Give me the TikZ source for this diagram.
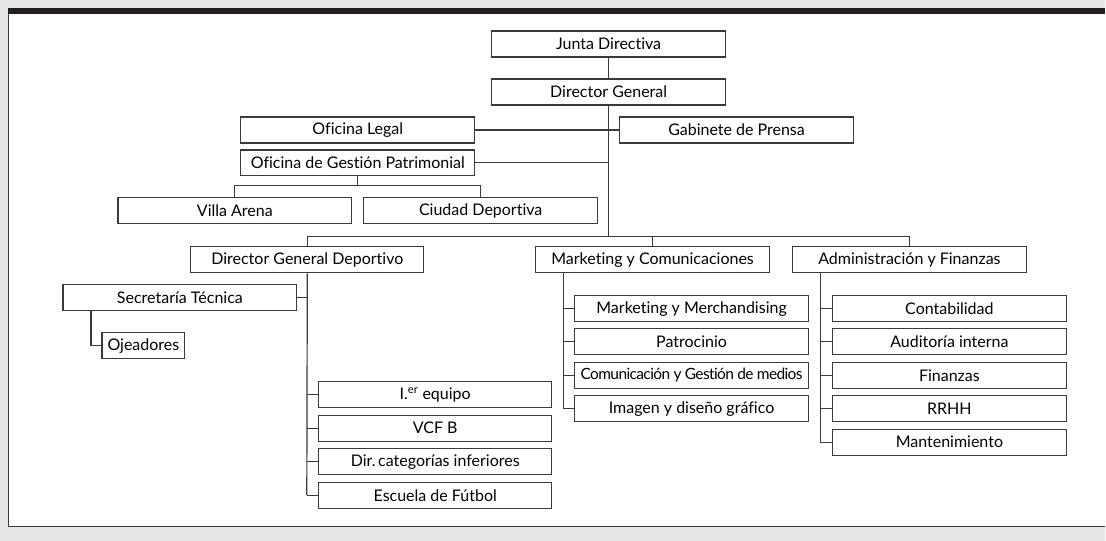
\documentclass[tikz,border=0pt]{standalone}
\usepackage{fontspec}
\setmainfont{Lato}[Ligatures=NoCommon]
\usepackage{tikz}

\definecolor{fondo}{HTML}{E6E7E8}
\definecolor{barra}{HTML}{231F20}
\definecolor{linea}{HTML}{3A3A3A}

\begin{document}
\begin{tikzpicture}[x=1pt,y=-1pt,
    caja/.style={draw=linea,line width=1.2pt,fill=white,minimum width=234pt,
      minimum height=26pt,inner sep=0pt,font=\fontsize{16}{18}\selectfont},
    enlace/.style={draw=linea,line width=1.2pt}]
  % fondo y marco
  \fill[fondo] (0,0) rectangle (1106,541);
  \fill[white] (8,14) rectangle (1106,527);
  \fill[barra] (8,8) rectangle (1106,14);
  \draw[linea,line width=1.4pt] (8.7,14) -- (8.7,527) -- (1106,527);

  % direccion
  \node[caja] (junta) at (609,44) {Junta Directiva};
  \node[caja] (dirgen) at (609,92) {Director General};
  \node[caja] (legal) at (358,130) {Oficina Legal};
  \node[caja] (prensa) at (737,130) {Gabinete de Prensa};
  \node[caja] (patrim) at (358,163) {Oficina de Gestión Patrimonial};
  \node[caja] (villa) at (235,211) {Villa Arena};
  \node[caja] (ciudad) at (481,211) {Ciudad Deportiva};
  \coordinate (tronco) at (0,237);
  \coordinate (ramal) at (0,186);

  \draw[enlace] (junta) -- (dirgen);
  \draw[enlace] (dirgen.south) -- (dirgen.south |- tronco);
  \draw[enlace] (legal.east) -- (prensa.west);
  \draw[enlace] (patrim.east) -- (patrim.east -| dirgen.south);
  \draw[enlace] (patrim.south) -- (patrim.south |- ramal);
  \draw[enlace] (villa.north) -- (villa.north |- ramal) -- (ciudad.north |- ramal) -- (ciudad.north);

  % areas
  \node[caja,minimum width=233pt] (deport) at (307.5,260) {Director General Deportivo};
  \node[caja] (mkt) at (653,260) {Marketing y Comunicaciones};
  \node[caja] (admin) at (910,260) {Administración y Finanzas};
  \draw[enlace] (deport.north) -- (deport.north |- tronco) -- (admin.north |- tronco) -- (admin.north);
  \draw[enlace] (mkt.north) -- (mkt.north |- tronco);

  % deportivo
  \node[caja] (secre) at (180,297.5) {Secretaría Técnica};
  \node[caja,minimum width=83pt] (ojea) at (143.5,346) {Ojeadores};
  \node[caja,minimum width=233pt] (primer) at (435.5,395) {I.\textsuperscript{er} equipo};
  \node[caja,minimum width=233pt] (vcfb) at (435.5,428.5) {VCF B};
  \node[caja,minimum width=233pt] (infer) at (435.5,462) {Dir.\,categorías inferiores};
  \node[caja,minimum width=233pt] (escuela) at (435.5,495.5) {Escuela de Fútbol};
  \coordinate (tdep) at (307,0);
  \coordinate (tsec) at (91,0);
  \draw[enlace] (deport.south) -- (escuela.west -| tdep);
  \draw[enlace] (secre.east) -- (secre.east -| tdep);
  \draw[enlace] (primer.west) -- (primer.west -| tdep);
  \draw[enlace] (vcfb.west) -- (vcfb.west -| tdep);
  \draw[enlace] (infer.west) -- (infer.west -| tdep);
  \draw[enlace] (escuela.west) -- (escuela.west -| tdep);
  \draw[enlace] (secre.south -| tsec) -- (ojea.west -| tsec) -- (ojea.west);

  % marketing
  \node[caja] (merch) at (692,309) {Marketing y Merchandising};
  \node[caja] (patro) at (692,342) {Patrocinio};
  \node[caja] (medios) at (692,375.5) {\fontsize{15.5}{17}\selectfont\addfontfeature{LetterSpace=-4}Comunicación y Gestión de medios};
  \node[caja] (imagen) at (692,409) {Imagen y diseño gráfico};
  \coordinate (tmkt) at (564,0);
  \draw[enlace] (mkt.south -| tmkt) -- (imagen.west -| tmkt) -- (imagen.west);
  \draw[enlace] (merch.west) -- (merch.west -| tmkt);
  \draw[enlace] (patro.west) -- (patro.west -| tmkt);
  \draw[enlace] (medios.west) -- (medios.west -| tmkt);

  % administracion
  \node[caja] (conta) at (950,309) {Contabilidad};
  \node[caja] (audit) at (950,342) {Auditoría interna};
  \node[caja] (finan) at (950,375.5) {Finanzas};
  \node[caja] (rrhh) at (950,409) {RRHH};
  \node[caja] (mante) at (950,442.5) {Mantenimiento};
  \coordinate (tadm) at (821,0);
  \draw[enlace] (admin.south -| tadm) -- (mante.west -| tadm) -- (mante.west);
  \draw[enlace] (conta.west) -- (conta.west -| tadm);
  \draw[enlace] (audit.west) -- (audit.west -| tadm);
  \draw[enlace] (finan.west) -- (finan.west -| tadm);
  \draw[enlace] (rrhh.west) -- (rrhh.west -| tadm);
\end{tikzpicture}
\end{document}
